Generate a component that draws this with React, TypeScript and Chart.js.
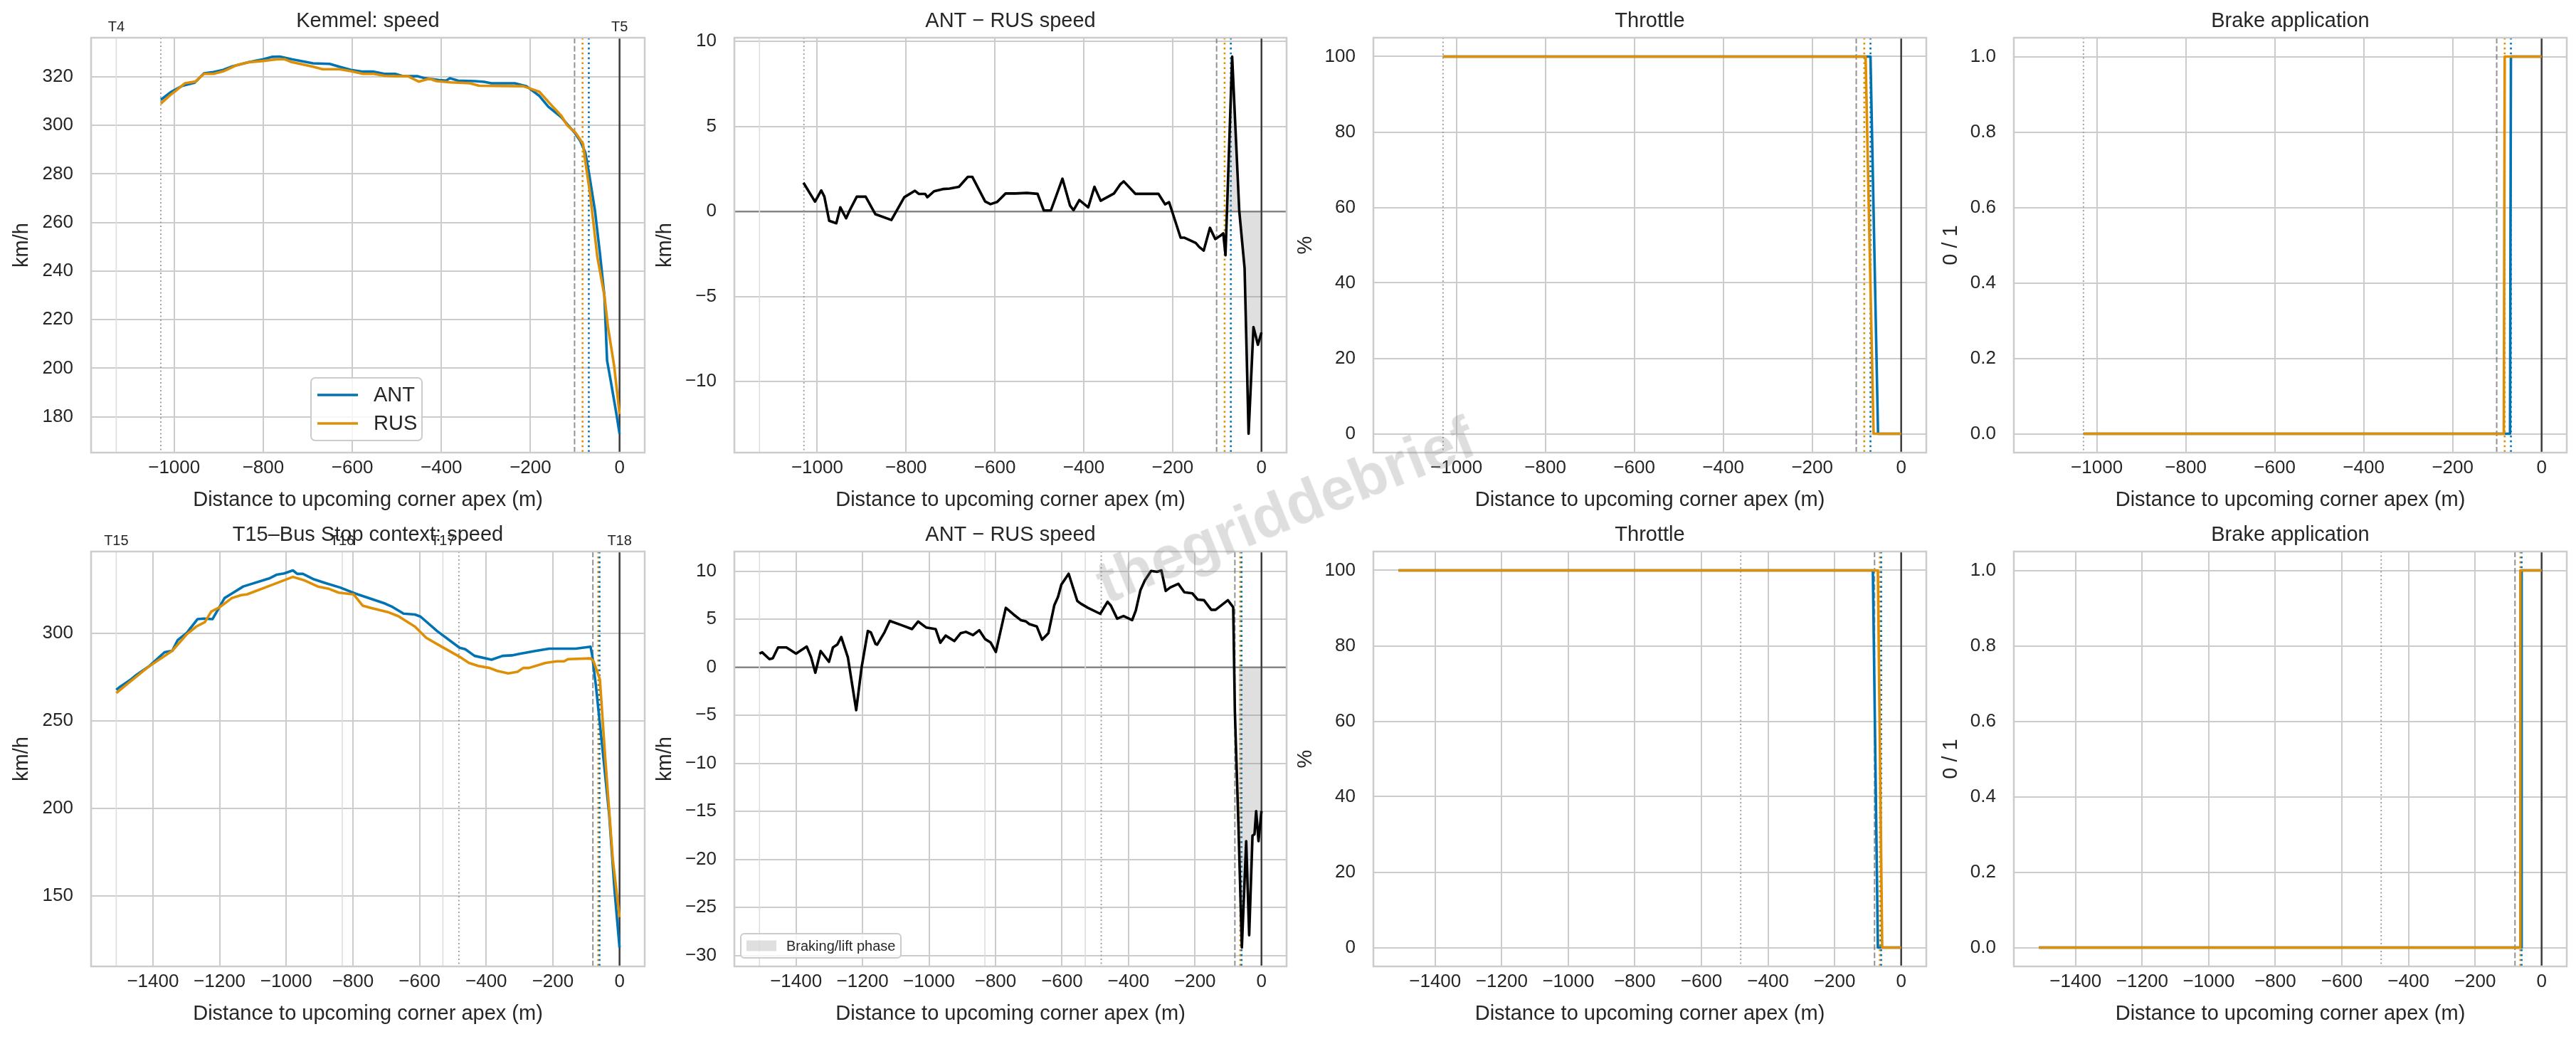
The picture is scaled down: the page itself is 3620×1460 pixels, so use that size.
import React, { useEffect, useRef } from 'react';
import { Chart, registerables } from 'chart.js';

Chart.register(...registerables);

// ================= DATA =================
// --- Kemmel straight (T4 -> T5) ---
const kemAntDist = [-1030, -1008, -981, -954, -933, -912, -890, -869, -832, -800, -779, -763, -736, -688, -651, -629, -603, -576, -552, -528, -504, -485, -453, -437, -405, -389, -381, -363, -325, -304, -288, -235, -209, -180, -160, -131, -115, -101, -88, -77, -69, -55, -44, -34, -28, -20, -7, 0];
const kemAntSpeed = [310.5, 313.6, 316.3, 317.5, 321.4, 321.9, 322.8, 324.3, 326.0, 327.2, 328.2, 328.3, 327.2, 325.5, 325.3, 324.1, 322.8, 322.1, 322.1, 321.2, 321.2, 320.2, 320.2, 319.4, 318.6, 318.4, 319.4, 318.4, 318.2, 317.9, 317.3, 317.3, 316.1, 312.1, 307.7, 303.4, 299.9, 297.0, 293.5, 288.9, 280.8, 264.6, 247.2, 229.8, 203.1, 195.0, 181.1, 173.0];
const kemRusDist = [-1030, -1008, -997, -976, -952, -933, -912, -890, -859, -832, -800, -768, -752, -736, -688, -667, -629, -603, -576, -552, -528, -504, -475, -451, -427, -411, -379, -336, -315, -217, -203, -180, -155, -131, -117, -99, -82, -77, -66, -50, -34, -26, -12, 0];
const kemRusSpeed = [308.9, 312.6, 314.1, 317.3, 318.0, 321.2, 321.2, 322.2, 324.8, 326.0, 326.5, 327.2, 327.2, 326.0, 324.1, 323.1, 323.1, 322.3, 321.2, 321.2, 320.4, 320.2, 320.2, 318.0, 319.2, 318.2, 317.7, 317.3, 316.3, 316.1, 315.3, 313.8, 308.7, 304.0, 299.9, 297.0, 292.4, 285.4, 271.5, 246.0, 229.8, 217.0, 200.8, 181.1];
const kemDeltaDist = [-1031, -1005, -991, -984, -973, -957, -948, -935, -927, -911, -891, -869, -833, -804, -780, -771, -757, -752, -737, -717, -702, -681, -661, -651, -622, -610, -595, -576, -554, -528, -504, -490, -474, -448, -431, -423, -410, -390, -376, -362, -332, -318, -310, -284, -232, -217, -208, -182, -174, -148, -140, -130, -116, -104, -94, -86, -81, -66, -50, -38, -29, -18, -8, 0];
const kemDelta = [1.69, 0.58, 1.24, 0.88, -0.55, -0.69, 0.24, -0.40, 0.06, 0.87, 0.87, -0.16, -0.50, 0.84, 1.22, 1.03, 1.03, 0.84, 1.19, 1.32, 1.35, 1.45, 2.04, 2.04, 0.59, 0.43, 0.56, 1.06, 1.06, 1.09, 1.04, 0.06, 0.06, 1.93, 0.35, 0.08, 0.67, 0.24, 1.45, 0.63, 1.06, 1.59, 1.77, 1.04, 1.04, 0.42, 0.55, -1.54, -1.54, -1.85, -2.09, -2.30, -0.96, -1.62, -1.45, -1.29, -2.57, 9.11, 0.03, -3.34, -13.07, -6.80, -7.84, -7.12];
const kemAntThrDist = [-1030, -69, -52, 0];
const kemAntThr = [100, 100, 0, 0];
const kemRusThrDist = [-1030, -80, -62, 0];
const kemRusThr = [100, 100, 0, 0];
const kemAntBrkDist = [-1030, -71, -69, 0];
const kemAntBrk = [0, 0, 1, 1];
const kemRusBrkDist = [-1030, -85, -83, 0];
const kemRusBrk = [0, 0, 1, 1];
const kemCorners = ['T4', 'T5'];
const kemCornerDist = [-1130, 0];
const kemStart = -1030;
const kemPhaseStart = -101;
const kemRusBrakePt = -83;
const kemAntBrakePt = -69;
const kemFillFrom = -82;

// --- T15 -> Bus Stop (T18) ---
const busAntDist = [-1510, -1499, -1466, -1449, -1410, -1365, -1342, -1326, -1298, -1266, -1247, -1221, -1185, -1163, -1129, -1051, -1028, -1006, -980, -967, -950, -917, -883, -838, -793, -704, -681, -648, -614, -597, -547, -480, -463, -435, -384, -351, -323, -300, -250, -211, -132, -87, -82, -71, -54, -31, -15, 0];
const busAntSpeed = [267.7, 269.4, 273.7, 276.3, 281.4, 289.2, 290.0, 296.0, 300.3, 308.1, 308.4, 308.1, 320.1, 322.7, 326.7, 331.3, 333.5, 334.2, 335.9, 333.9, 333.9, 330.8, 328.7, 326.1, 322.7, 317.0, 315.0, 311.2, 310.7, 309.5, 301.2, 291.7, 290.9, 287.1, 284.9, 287.1, 287.4, 288.3, 290.0, 291.2, 291.2, 292.3, 287.4, 270.2, 239.3, 196.3, 153.3, 120.6];
const busRusDist = [-1510, -1471, -1415, -1342, -1298, -1270, -1244, -1225, -1202, -1163, -1135, -1118, -1051, -980, -944, -905, -871, -843, -798, -771, -748, -692, -664, -614, -580, -536, -480, -452, -424, -390, -367, -334, -306, -289, -272, -222, -188, -166, -155, -87, -78, -59, -43, -20, 0];
const busRusSpeed = [265.9, 272.0, 280.6, 290.0, 299.5, 303.8, 306.4, 312.4, 314.6, 320.1, 321.8, 322.2, 327.0, 332.2, 330.1, 326.7, 325.3, 323.2, 322.2, 315.8, 314.6, 311.9, 309.8, 303.8, 297.4, 292.6, 286.6, 283.1, 281.4, 280.2, 278.5, 277.1, 278.0, 280.2, 280.2, 283.1, 284.0, 284.0, 285.2, 285.7, 284.0, 273.7, 229.0, 170.5, 138.0];
const busDeltaDist = [-1510, -1502, -1480, -1470, -1454, -1429, -1400, -1368, -1355, -1342, -1326, -1301, -1289, -1276, -1264, -1244, -1219, -1203, -1184, -1175, -1161, -1156, -1134, -1118, -1086, -1051, -1033, -1009, -980, -966, -950, -924, -905, -889, -868, -849, -831, -815, -799, -769, -745, -724, -708, -698, -676, -660, -641, -623, -612, -602, -580, -554, -543, -522, -485, -463, -453, -434, -415, -389, -378, -364, -351, -332, -314, -301, -288, -274, -250, -232, -208, -192, -173, -151, -138, -101, -85, -80, -69, -59, -46, -37, -27, -21, -16, -9, 0];
const busDelta = [1.42, 1.56, 0.85, 0.94, 2.07, 2.07, 1.42, 2.16, 1.08, -0.57, 1.70, 0.57, 2.07, 2.36, 3.15, 1.02, -4.46, -0.06, 3.78, 3.64, 2.44, 2.36, 3.64, 4.83, 4.43, 3.98, 4.77, 4.15, 3.98, 2.56, 3.30, 2.73, 3.55, 3.69, 3.35, 3.86, 2.93, 2.59, 1.59, 6.19, 5.48, 4.91, 4.77, 4.49, 4.26, 2.87, 3.55, 6.48, 7.33, 8.61, 9.74, 6.90, 6.62, 6.19, 5.57, 6.82, 6.42, 5.06, 5.34, 4.91, 5.91, 8.04, 9.03, 10.03, 9.94, 10.09, 7.95, 8.32, 8.69, 7.81, 7.70, 7.05, 6.99, 5.99, 5.99, 6.99, 6.25, -4.60, -16.82, -29.18, -18.10, -27.90, -17.53, -17.39, -14.97, -18.10, -14.97];
const busAntThrDist = [-1510, -85, -70, 0];
const busAntThr = [100, 100, 0, 0];
const busRusThrDist = [-1510, -70, -57, 0];
const busRusThr = [100, 100, 0, 0];
const busAntBrkDist = [-1510, -61, -60, 0];
const busAntBrk = [0, 0, 1, 1];
const busRusBrkDist = [-1510, -65, -64, 0];
const busRusBrk = [0, 0, 1, 1];
const busCorners = ['T15', 'T16', 'T17', 'T18'];
const busCornerDist = [-1510, -832, -530, 0];
const busStart = -482;
const busPhaseStart = -80;
const busRusBrakePt = -64;
const busAntBrakePt = -60;
const busFillFrom = -70;

// --- tick labels ---
const topXTicks = [-1000, -800, -600, -400, -200, 0];
const botXTicks = [-1400, -1200, -1000, -800, -600, -400, -200, 0];
const kemSpeedTicks = [180, 200, 220, 240, 260, 280, 300, 320];
const kemDeltaTicks = [-10, -5, 0, 5, 10];
const busSpeedTicks = [150, 200, 250, 300];
const busDeltaTicks = [-30, -25, -20, -15, -10, -5, 0, 5, 10];
const throttleTicks = [0, 20, 40, 60, 80, 100];
const brakeTicks = [0, 0.2, 0.4, 0.6, 0.8, 1.0];

const X_TITLE = 'Distance to upcoming corner apex (m)';

// ================= STYLE / LAYOUT =================
const FONT = '"Liberation Sans", Arial, Helvetica, sans-serif';
const INK = '#262626';
const BLUE = '#0173B2';
const ORANGE = '#DE8F05';
const GRID = '#cccccc';
const PHASE_FILL = 'rgba(128,128,128,0.25)';

const ROW_TOP = [0, 720];
const ROW_BOTTOM = [740, 1460];
const AREA_TOP = [53, 775];
const AREA_BOTTOM = [636, 1358];
const AREA_LEFT = [128, 1032, 1930, 2830];
const AREA_RIGHT = [906, 1808, 2707, 3607];
const YTITLE_X = [31, 935, 1835, 2742];
const XTITLE_Y = [703, 1425];
const YAXIS_W = 128;
const RIGHT_PAD = 13;

function fmt(v: number, digits: number) {
  const s = Math.abs(v).toFixed(digits);
  return v < 0 && Math.abs(v) > 1e-9 ? '\u2212' + s : s;
}

function pad5(vals: number[]): [number, number] {
  const lo = Math.min(...vals);
  const hi = Math.max(...vals);
  const d = (hi - lo) * 0.05;
  return [lo - d, hi + d];
}

const pts = (xs: number[], ys: number[]) => xs.map((x, i) => ({ x, y: ys[i] }));

type VL = { x: number; color: string; width: number; dash: number[] };
const tLine = (x: number): VL => ({ x, color: '#dedede', width: 1.6, dash: [] });
const startLine = (x: number): VL => ({ x, color: '#9a9a9a', width: 1.8, dash: [2, 3.5] });
const phaseLine = (x: number): VL => ({ x, color: 'rgba(110,110,110,0.75)', width: 2, dash: [8, 3.5] });
const rusLine = (x: number): VL => ({ x, color: ORANGE, width: 2.6, dash: [2.6, 4.3] });
const antLine = (x: number): VL => ({ x, color: BLUE, width: 2.6, dash: [2.6, 4.3] });
const apexLine = (x: number): VL => ({ x, color: '#3c3c3c', width: 2.5, dash: [] });

const topMarks = (withT: boolean): VL[] => [
  ...(withT ? [tLine(kemCornerDist[0])] : []),
  startLine(kemStart),
  phaseLine(kemPhaseStart),
  rusLine(kemRusBrakePt),
  antLine(kemAntBrakePt),
  apexLine(kemCornerDist[kemCornerDist.length - 1]),
];
const botMarks = (withT: boolean): VL[] => [
  ...(withT ? busCornerDist.slice(0, -1).map(tLine) : []),
  startLine(busStart),
  phaseLine(busPhaseStart),
  rusLine(busRusBrakePt),
  antLine(busAntBrakePt),
  apexLine(busCornerDist[busCornerDist.length - 1]),
];

type Series = { xs: number[]; ys: number[]; color: string; width: number };
type PanelSpec = {
  row: number; col: number; title: string; yTitle: string;
  x: [number, number]; xTicks: number[];
  y: [number, number]; yTicks: number[]; yDigits: number;
  series: Series[];
  fill?: { xs: number[]; ys: number[] };
  zero?: boolean;
  vlines: VL[];
  tLabels?: { x: number; text: string }[];
  legend?: 'speed' | 'phase';
};

const topX = pad5([...kemCornerDist, ...kemAntDist]);
const botX = pad5([...busCornerDist, ...busAntDist]);

const filterFrom = (xs: number[], ys: number[], from: number) => {
  const fx: number[] = []; const fy: number[] = [];
  xs.forEach((x, i) => { if (x >= from) { fx.push(x); fy.push(ys[i]); } });
  return { xs: fx, ys: fy };
};

const PANELS: PanelSpec[] = [
  {
    row: 0, col: 0, title: 'Kemmel: speed', yTitle: 'km/h', x: topX, xTicks: topXTicks,
    y: pad5([...kemAntSpeed, ...kemRusSpeed]), yTicks: kemSpeedTicks, yDigits: 0,
    series: [
      { xs: kemRusDist, ys: kemRusSpeed, color: ORANGE, width: 3.6 },
      { xs: kemAntDist, ys: kemAntSpeed, color: BLUE, width: 3.6 },
    ],
    vlines: topMarks(true),
    tLabels: kemCorners.map((t, i) => ({ x: kemCornerDist[i], text: t })),
    legend: 'speed',
  },
  {
    row: 0, col: 1, title: 'ANT \u2212 RUS speed', yTitle: 'km/h', x: topX, xTicks: topXTicks,
    y: pad5(kemDelta), yTicks: kemDeltaTicks, yDigits: 0,
    series: [{ xs: kemDeltaDist, ys: kemDelta, color: '#000000', width: 3.6 }],
    fill: filterFrom(kemDeltaDist, kemDelta, kemFillFrom), zero: true,
    vlines: topMarks(true),
  },
  {
    row: 0, col: 2, title: 'Throttle', yTitle: '%', x: topX, xTicks: topXTicks,
    y: pad5([...kemAntThr, ...kemRusThr]), yTicks: throttleTicks, yDigits: 0,
    series: [
      { xs: kemRusThrDist, ys: kemRusThr, color: ORANGE, width: 3.6 },
      { xs: kemAntThrDist, ys: kemAntThr, color: BLUE, width: 3.6 },
    ],
    vlines: topMarks(false),
  },
  {
    row: 0, col: 3, title: 'Brake application', yTitle: '0 / 1', x: topX, xTicks: topXTicks,
    y: pad5([...kemAntBrk, ...kemRusBrk]), yTicks: brakeTicks, yDigits: 1,
    series: [
      { xs: kemRusBrkDist, ys: kemRusBrk, color: ORANGE, width: 3.6 },
      { xs: kemAntBrkDist, ys: kemAntBrk, color: BLUE, width: 3.6 },
    ],
    vlines: topMarks(false),
  },
  {
    row: 1, col: 0, title: 'T15\u2013Bus Stop context: speed', yTitle: 'km/h', x: botX, xTicks: botXTicks,
    y: pad5([...busAntSpeed, ...busRusSpeed]), yTicks: busSpeedTicks, yDigits: 0,
    series: [
      { xs: busRusDist, ys: busRusSpeed, color: ORANGE, width: 3.6 },
      { xs: busAntDist, ys: busAntSpeed, color: BLUE, width: 3.6 },
    ],
    vlines: botMarks(true),
    tLabels: busCorners.map((t, i) => ({ x: busCornerDist[i], text: t })),
  },
  {
    row: 1, col: 1, title: 'ANT \u2212 RUS speed', yTitle: 'km/h', x: botX, xTicks: botXTicks,
    y: pad5(busDelta), yTicks: busDeltaTicks, yDigits: 0,
    series: [{ xs: busDeltaDist, ys: busDelta, color: '#000000', width: 3.6 }],
    fill: filterFrom(busDeltaDist, busDelta, busFillFrom), zero: true,
    vlines: botMarks(true),
    legend: 'phase',
  },
  {
    row: 1, col: 2, title: 'Throttle', yTitle: '%', x: botX, xTicks: botXTicks,
    y: pad5([...busAntThr, ...busRusThr]), yTicks: throttleTicks, yDigits: 0,
    series: [
      { xs: busRusThrDist, ys: busRusThr, color: ORANGE, width: 3.6 },
      { xs: busAntThrDist, ys: busAntThr, color: BLUE, width: 3.6 },
    ],
    vlines: botMarks(false),
  },
  {
    row: 1, col: 3, title: 'Brake application', yTitle: '0 / 1', x: botX, xTicks: botXTicks,
    y: pad5([...busAntBrk, ...busRusBrk]), yTicks: brakeTicks, yDigits: 1,
    series: [
      { xs: busRusBrkDist, ys: busRusBrk, color: ORANGE, width: 3.6 },
      { xs: busAntBrkDist, ys: busAntBrk, color: BLUE, width: 3.6 },
    ],
    vlines: botMarks(false),
  },
];

function geom(p: PanelSpec) {
  const left = AREA_LEFT[p.col] - YAXIS_W;
  const top = ROW_TOP[p.row];
  const w = Math.min(AREA_RIGHT[p.col] + RIGHT_PAD, 3620) - left;
  const h = ROW_BOTTOM[p.row] - top;
  return { left, top, w, h };
}

function strokeLine(ctx: any, x1: number, y1: number, x2: number, y2: number, color: string, width: number, dash: number[]) {
  ctx.strokeStyle = color;
  ctx.lineWidth = width;
  ctx.setLineDash(dash);
  ctx.beginPath();
  ctx.moveTo(x1, y1);
  ctx.lineTo(x2, y2);
  ctx.stroke();
}

function rrect(ctx: any, x: number, y: number, w: number, h: number, r: number) {
  ctx.beginPath();
  ctx.moveTo(x + r, y);
  ctx.lineTo(x + w - r, y);
  ctx.arcTo(x + w, y, x + w, y + r, r);
  ctx.lineTo(x + w, y + h - r);
  ctx.arcTo(x + w, y + h, x + w - r, y + h, r);
  ctx.lineTo(x + r, y + h);
  ctx.arcTo(x, y + h, x, y + h - r, r);
  ctx.lineTo(x, y + r);
  ctx.arcTo(x, y, x + r, y, r);
  ctx.closePath();
}

function decor(p: PanelSpec) {
  return {
    id: 'decor',
    beforeDatasetsDraw(chart: any) {
      const { ctx, chartArea: a, scales } = chart;
      ctx.save();
      ctx.beginPath();
      ctx.rect(a.left, a.top, a.right - a.left, a.bottom - a.top);
      ctx.clip();
      if (p.zero) {
        const y = scales.y.getPixelForValue(0);
        strokeLine(ctx, a.left, y, a.right, y, '#858585', 2.4, []);
      }
      for (const v of p.vlines) {
        const x = scales.x.getPixelForValue(v.x);
        strokeLine(ctx, x, a.top, x, a.bottom, v.color, v.width, v.dash);
      }
      ctx.restore();
    },
    afterDraw(chart: any) {
      const { ctx, chartArea: a, scales } = chart;
      ctx.save();
      ctx.setLineDash([]);
      ctx.strokeStyle = GRID;
      ctx.lineWidth = 2.5;
      ctx.strokeRect(a.left, a.top, a.right - a.left, a.bottom - a.top);

      ctx.fillStyle = INK;
      ctx.textBaseline = 'alphabetic';
      if (p.tLabels) {
        ctx.font = `20px ${FONT}`;
        ctx.textAlign = 'center';
        for (const t of p.tLabels) ctx.fillText(t.text, scales.x.getPixelForValue(t.x), a.top - 9);
      }
      ctx.font = `29px ${FONT}`;
      ctx.textAlign = 'center';
      ctx.fillText(p.title, (a.left + a.right) / 2, a.top - 15);

      if (p.legend === 'speed') {
        const bw = 156, bh = 88;
        const bx = (a.left + a.right) / 2 - bw / 2 - 2;
        const by = a.bottom - 17 - bh;
        rrect(ctx, bx, by, bw, bh, 6);
        ctx.fillStyle = 'rgba(255,255,255,0.8)';
        ctx.fill();
        ctx.strokeStyle = GRID;
        ctx.lineWidth = 2;
        ctx.stroke();
        const items = [['ANT', BLUE], ['RUS', ORANGE]];
        ctx.font = `29px ${FONT}`;
        ctx.textAlign = 'left';
        ctx.textBaseline = 'middle';
        items.forEach(([label, color], i) => {
          const yy = by + 24 + i * 40;
          strokeLine(ctx, bx + 9, yy, bx + 66, yy, color, 3.6, []);
          ctx.fillStyle = INK;
          ctx.fillText(label, bx + 88, yy + 1);
        });
      }
      if (p.legend === 'phase') {
        const bw = 225, bh = 34;
        const bx = a.left + 9;
        const by = a.bottom - 12 - bh;
        rrect(ctx, bx, by, bw, bh, 5);
        ctx.fillStyle = 'rgba(255,255,255,0.8)';
        ctx.fill();
        ctx.strokeStyle = GRID;
        ctx.lineWidth = 2;
        ctx.stroke();
        ctx.fillStyle = PHASE_FILL;
        ctx.fillRect(bx + 8, by + 9.5, 42, 15);
        ctx.fillStyle = INK;
        ctx.font = `20px ${FONT}`;
        ctx.textAlign = 'left';
        ctx.textBaseline = 'middle';
        ctx.fillText('Braking/lift phase', bx + 64, by + bh / 2 + 1);
      }
      ctx.restore();
    },
  };
}

function buildConfig(p: PanelSpec) {
  const g = geom(p);
  const xAxisH = ROW_BOTTOM[p.row] - AREA_BOTTOM[p.row];
  const yTitlePad = YTITLE_X[p.col] - g.left - 17.4;
  const xTitlePad = ROW_BOTTOM[p.row] - XTITLE_Y[p.row] - 17.4;
  const datasets: any[] = p.series.map((s) => ({
    data: pts(s.xs, s.ys),
    borderColor: s.color,
    backgroundColor: s.color,
    borderWidth: s.width,
    pointRadius: 0,
    pointHoverRadius: 0,
    fill: false,
    tension: 0,
    borderJoinStyle: 'round',
    borderCapStyle: 'butt',
  }));
  if (p.fill) {
    datasets.push({
      data: pts(p.fill.xs, p.fill.ys),
      borderColor: 'rgba(0,0,0,0)',
      backgroundColor: PHASE_FILL,
      borderWidth: 0,
      pointRadius: 0,
      pointHoverRadius: 0,
      fill: { value: 0 },
      tension: 0,
    });
  }
  const tickFont = { family: FONT, size: 26 };
  const titleFont = { family: FONT, size: 29, lineHeight: 1.2 };
  return {
    type: 'line',
    data: { datasets },
    options: {
      animation: false,
      responsive: false,
      maintainAspectRatio: false,
      events: [],
      layout: { padding: { left: 0, right: RIGHT_PAD, top: AREA_TOP[p.row] - ROW_TOP[p.row], bottom: 0 } },
      plugins: { legend: { display: false }, tooltip: { enabled: false }, title: { display: false } },
      scales: {
        x: {
          type: 'linear',
          min: p.x[0],
          max: p.x[1],
          afterBuildTicks: (s: any) => { s.ticks = p.xTicks.map((v) => ({ value: v })); },
          afterFit: (s: any) => { s.height = xAxisH; },
          grid: { color: GRID, lineWidth: 2, drawTicks: false },
          border: { display: false },
          ticks: {
            autoSkip: false, maxRotation: 0, minRotation: 0, padding: 6,
            color: INK, font: tickFont,
            callback: (v: any) => fmt(Number(v), 0),
          },
          title: { display: true, text: X_TITLE, color: INK, font: titleFont, padding: { top: 0, bottom: xTitlePad } },
        },
        y: {
          type: 'linear',
          min: p.y[0],
          max: p.y[1],
          afterBuildTicks: (s: any) => { s.ticks = p.yTicks.map((v) => ({ value: v })); },
          afterFit: (s: any) => { s.width = YAXIS_W; },
          grid: { color: GRID, lineWidth: 2, drawTicks: false },
          border: { display: false },
          ticks: {
            autoSkip: false, padding: 25, color: INK, font: tickFont,
            callback: (v: any) => fmt(Number(v), p.yDigits),
          },
          title: { display: true, text: p.yTitle, color: INK, font: titleFont, padding: { top: yTitlePad, bottom: 0 } },
        },
      },
    },
    plugins: [decor(p)],
  };
}

export default function App() {
  const refs = useRef<(HTMLCanvasElement | null)[]>([]);
  useEffect(() => {
    document.body.style.margin = '0';
    const charts = PANELS.map((p, i) => new Chart(refs.current[i] as HTMLCanvasElement, buildConfig(p) as any));
    return () => { charts.forEach((c) => c.destroy()); };
  }, []);
  return (
    <div style={{ position: 'absolute', left: 0, top: 0, width: 3620, height: 1460, background: '#ffffff', overflow: 'hidden' }}>
      {PANELS.map((p, i) => {
        const g = geom(p);
        return (
          <canvas
            key={i}
            ref={(el) => { refs.current[i] = el; }}
            width={g.w}
            height={g.h}
            style={{ position: 'absolute', left: g.left, top: g.top, width: g.w, height: g.h }}
          />
        );
      })}
      <div
        style={{
          position: 'absolute', left: 1806, top: 716,
          transform: 'translate(-50%, -50%) rotate(-22deg)',
          fontFamily: FONT, fontWeight: 700, fontSize: 84, lineHeight: 1,
          color: 'rgba(128,128,128,0.26)', whiteSpace: 'nowrap', pointerEvents: 'none',
        }}
      >
        thegriddebrief
      </div>
    </div>
  );
}
